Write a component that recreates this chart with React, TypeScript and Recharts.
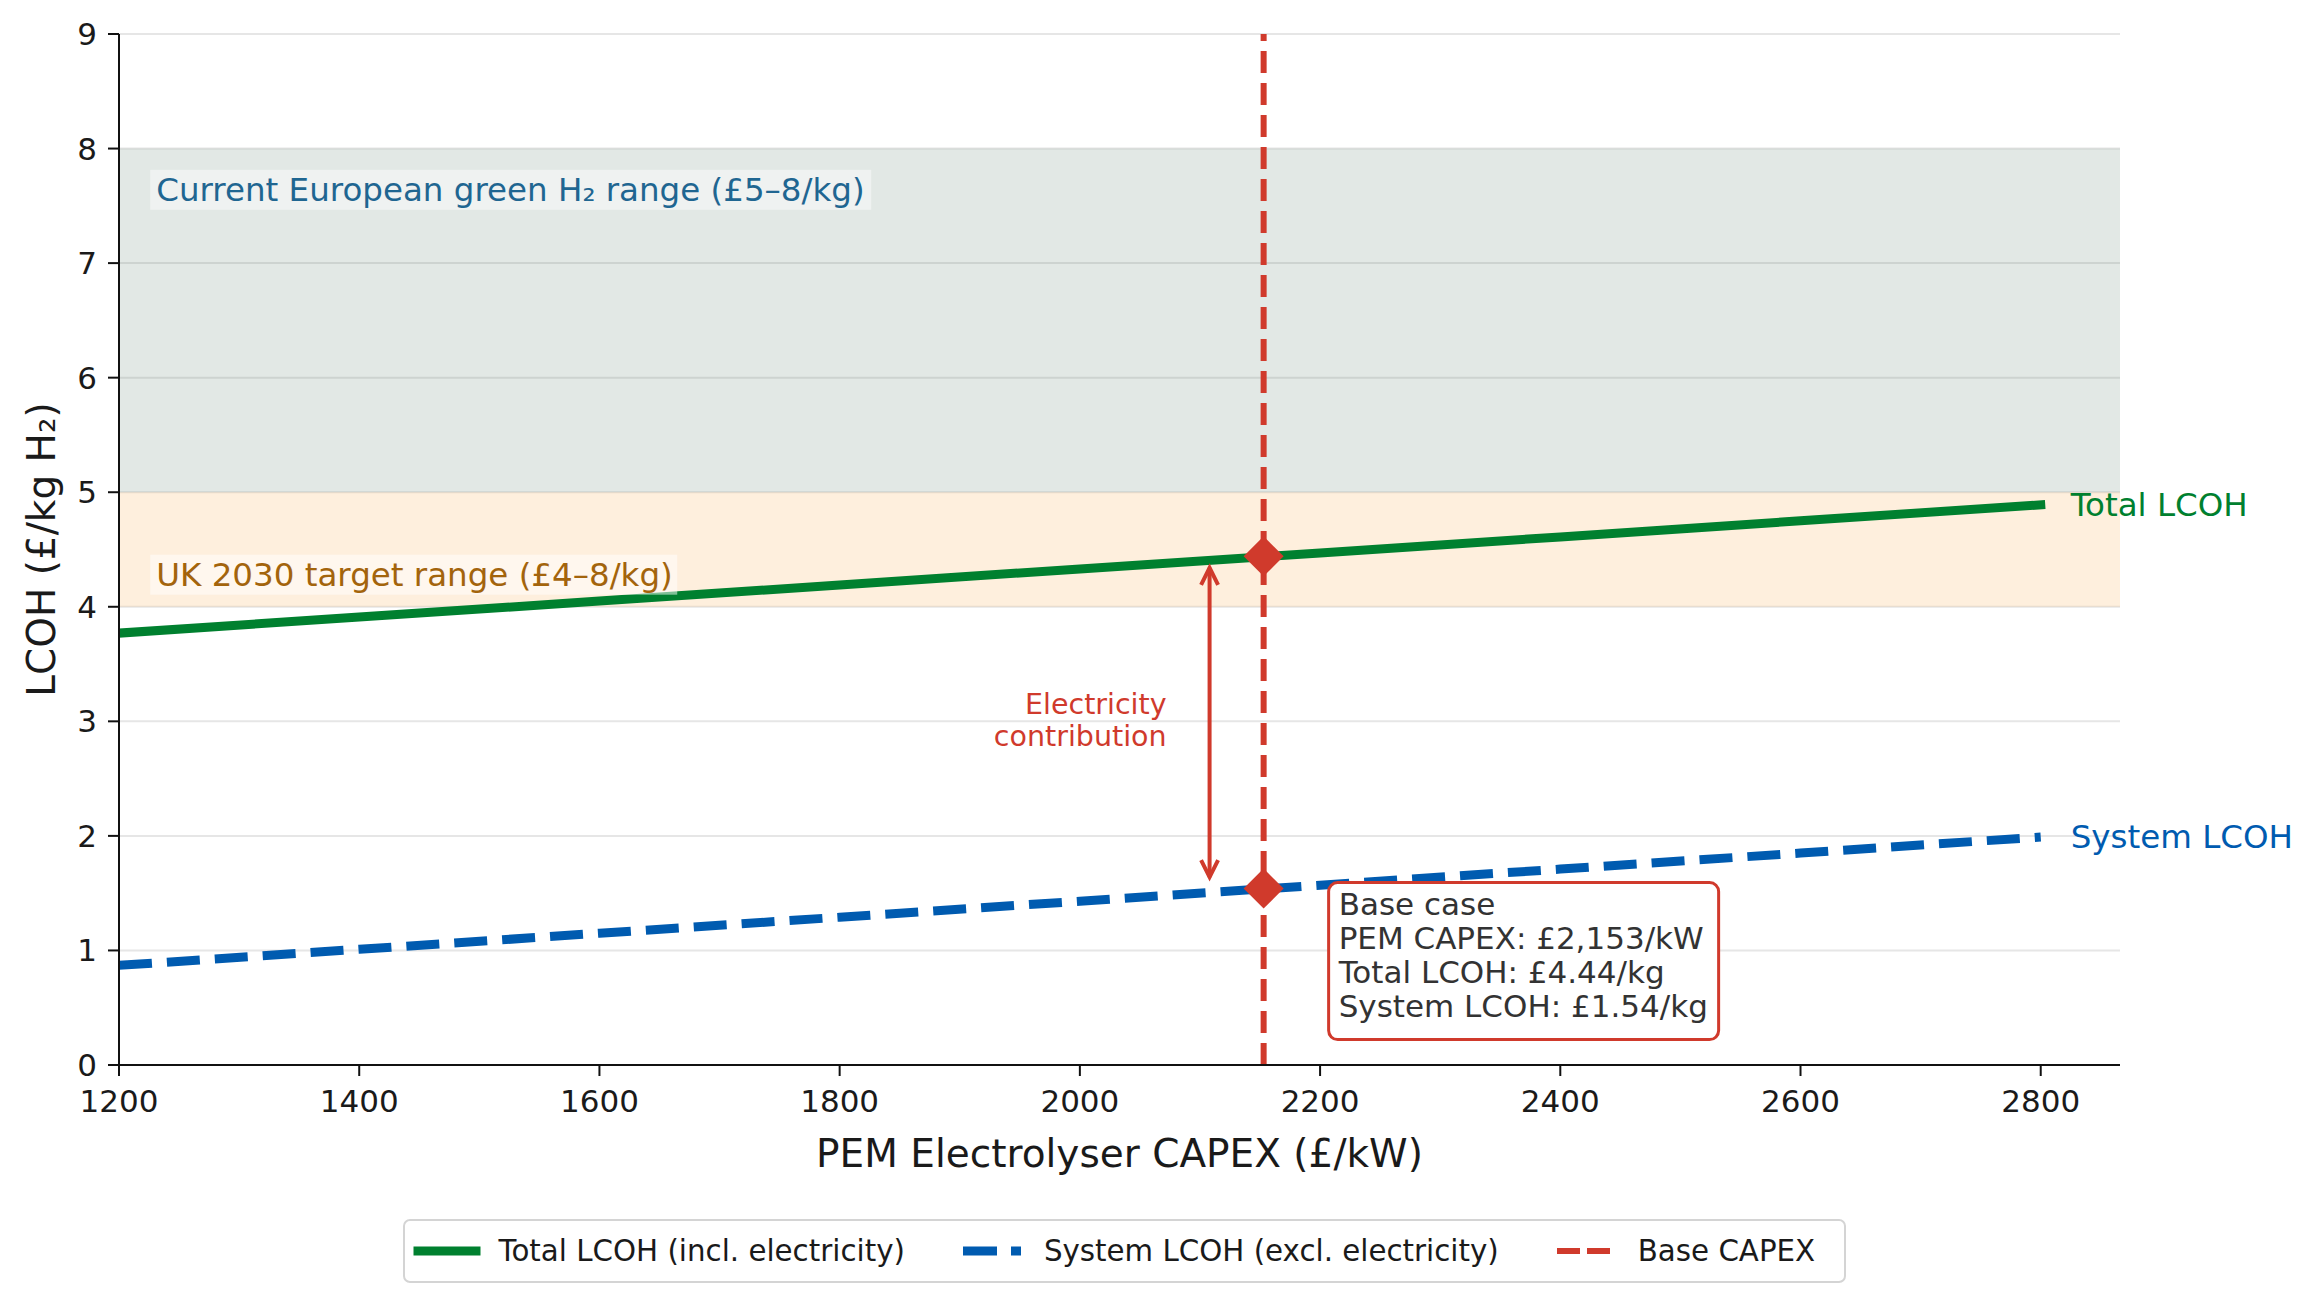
import {
  CartesianGrid,
  ComposedChart,
  Legend,
  Line,
  ReferenceArea,
  ReferenceDot,
  ReferenceLine,
  XAxis,
  YAxis,
} from "recharts";

// values
const capexPoints = [1200, 1400, 1600, 1800, 2000, 2200, 2400, 2600, 2800];
const totalLcoh = [3.77, 3.91, 4.05, 4.19, 4.33, 4.47, 4.61, 4.75, 4.89];
const systemLcoh = [0.87, 1.01, 1.15, 1.29, 1.43, 1.57, 1.71, 1.85, 1.99];
const xTicks = [1200, 1400, 1600, 1800, 2000, 2200, 2400, 2600, 2800];
const yTicks = [0, 1, 2, 3, 4, 5, 6, 7, 8, 9];

const baseCapex = 2153;
const baseTotal = 4.44;
const baseSystem = 1.54;

const ukBand = [4, 5];
const euBand = [5, 8];
const arrowCapex = 2108;
const arrowSpan = [1.64, 4.34];

const chartData = capexPoints.map((capex, i) => ({
  capex,
  total: totalLcoh[i],
  system: systemLcoh[i],
}));

const FONT = '"DejaVu Sans", sans-serif';
const GREEN = "#00802f";
const BLUE = "#005bb0";
const RED = "#d03a2c";
const INK = "#1a1a1a";

const legendItems = [
  { label: "Total LCOH (incl. electricity)", color: GREEN, width: 9, dash: undefined, cap: "square" },
  { label: "System LCOH (excl. electricity)", color: BLUE, width: 9, dash: "34 14", cap: "butt" },
  { label: "Base CAPEX", color: RED, width: 6, dash: "23 7", cap: "butt" },
];

function LegendBox() {
  return (
    <div
      style={{
        boxSizing: "border-box",
        width: 1443,
        height: 64,
        border: "2px solid #d4d4d4",
        borderRadius: 7,
        background: "#fff",
        display: "flex",
        alignItems: "center",
        paddingLeft: 12.5,
        fontFamily: FONT,
        fontSize: 29.3,
        color: INK,
        whiteSpace: "nowrap",
      }}
    >
      {legendItems.map((item, i) => (
        <div key={item.label} style={{ display: "flex", alignItems: "center", marginLeft: i === 0 ? 0 : 58 }}>
          <svg width={58} height={20} style={{ overflow: "visible", marginRight: 23 }}>
            <line
              x1={0}
              y1={10}
              x2={58}
              y2={10}
              stroke={item.color}
              strokeWidth={item.width}
              strokeDasharray={item.dash}
              strokeLinecap={item.cap as "square" | "butt"}
            />
          </svg>
          <span>{item.label}</span>
        </div>
      ))}
    </div>
  );
}

function Diamond({ cx, cy }: { cx?: number; cy?: number }) {
  if (cx == null || cy == null) return null;
  const h = 20;
  return <polygon points={`${cx},${cy - h} ${cx + h},${cy} ${cx},${cy + h} ${cx - h},${cy}`} fill={RED} />;
}

const endLabel = (text: string, color: string) => (p: any) =>
  (
    <text x={p.cx + 30} y={p.cy} dominantBaseline="central" fontSize={32.5} fill={color} fontFamily={FONT}>
      {text}
    </text>
  );

const bandLabel = (text: string, color: string, boxWidth: number, boxOpacity: number) => (p: any) =>
  (
    <g>
      <rect x={p.cx - 6} y={p.cy - 20} width={boxWidth} height={40} fill="#fff" fillOpacity={boxOpacity} />
      <text x={p.cx} y={p.cy} dominantBaseline="central" fontSize={32.5} fill={color} fontFamily={FONT}>
        {text}
      </text>
    </g>
  );

const baseCaseLines = [
  "Base case",
  `PEM CAPEX: £${baseCapex.toLocaleString("en-GB")}/kW`,
  `Total LCOH: £${baseTotal.toFixed(2)}/kg`,
  `System LCOH: £${baseSystem.toFixed(2)}/kg`,
];

function BaseCaseBox(p: any) {
  return (
    <g>
      <rect x={p.cx + 65} y={p.cy - 6} width={390} height={157} rx={9} fill="#fff" stroke={RED} strokeWidth={3} />
      {baseCaseLines.map((t, i) => (
        <text key={t} x={p.cx + 75} y={p.cy + 26 + i * 34.3} fontSize={31} fill="#333" fontFamily={FONT}>
          {t}
        </text>
      ))}
    </g>
  );
}

function ElectricityArrow(p: any) {
  const x = p.x1;
  const top = Math.min(p.y1, p.y2);
  const bottom = Math.max(p.y1, p.y2);
  const mid = (top + bottom) / 2;
  return (
    <g>
      <line x1={x} y1={top} x2={x} y2={bottom} stroke={RED} strokeWidth={4} />
      <polyline points={`${x - 8.5},${top + 17} ${x},${top} ${x + 8.5},${top + 17}`} fill="none" stroke={RED} strokeWidth={4} />
      <polyline
        points={`${x - 8.5},${bottom - 17} ${x},${bottom} ${x + 8.5},${bottom - 17}`}
        fill="none"
        stroke={RED}
        strokeWidth={4}
      />
      <text x={x - 43} y={mid - 8} textAnchor="end" fontSize={28.5} fill={RED} fontFamily={FONT}>
        Electricity
      </text>
      <text x={x - 43} y={mid + 24} textAnchor="end" fontSize={28.5} fill={RED} fontFamily={FONT}>
        contribution
      </text>
    </g>
  );
}

function YTitle(p: any) {
  const vb = p.viewBox ?? { x: 0, y: 34, width: 119, height: 1031 };
  const cx = vb.x + 41;
  const cy = vb.y + vb.height / 2;
  return (
    <text
      x={cx}
      y={cy}
      transform={`rotate(-90, ${cx}, ${cy})`}
      textAnchor="middle"
      dominantBaseline="central"
      fontSize={39}
      fill={INK}
      fontFamily={FONT}
    >
      LCOH (£/kg H₂)
    </text>
  );
}

export default function App() {
  return (
    <div style={{ fontFamily: FONT }}>
      <style>{"body{margin:0}"}</style>
      <ComposedChart
        width={2312}
        height={1297}
        data={chartData}
        margin={{ top: 34, right: 192, bottom: 130, left: 0 }}
        style={{ fontFamily: FONT }}
      >
        <CartesianGrid vertical={false} stroke="#e6e6e6" strokeWidth={2} />
        <ReferenceArea y1={euBand[0]} y2={euBand[1]} fill="#4a7060" fillOpacity={0.16} stroke="none" ifOverflow="visible" />
        <ReferenceArea y1={ukBand[0]} y2={ukBand[1]} fill="#f7a440" fillOpacity={0.18} stroke="none" ifOverflow="visible" />
        <XAxis
          dataKey="capex"
          type="number"
          domain={[1200, 2866]}
          ticks={xTicks}
          allowDataOverflow
          height={102}
          tickSize={11}
          tickMargin={14}
          axisLine={{ stroke: "#111", strokeWidth: 2 }}
          tickLine={{ stroke: "#111", strokeWidth: 2 }}
          tick={{ fontSize: 31, fill: INK, fontFamily: FONT }}
          label={{
            value: "PEM Electrolyser CAPEX (£/kW)",
            position: "insideBottom",
            offset: 0,
            fontSize: 39,
            fill: INK,
            fontFamily: FONT,
          }}
        />
        <YAxis
          type="number"
          domain={[0, 9]}
          ticks={yTicks}
          allowDataOverflow
          width={119}
          tickSize={11}
          tickMargin={11}
          axisLine={{ stroke: "#111", strokeWidth: 2 }}
          tickLine={{ stroke: "#111", strokeWidth: 2 }}
          tick={{ fontSize: 31, fill: INK, fontFamily: FONT }}
          label={{ content: YTitle }}
        />
        <ReferenceDot
          x={1231}
          y={7.64}
          shape={bandLabel("Current European green H₂ range (£5–8/kg)", "#1f6691", 721, 0.45)}
        />
        <ReferenceDot x={1231} y={4.28} shape={bandLabel("UK 2030 target range (£4–8/kg)", "#a3640c", 527, 0.5)} />
        <Line
          dataKey="total"
          stroke={GREEN}
          strokeWidth={9}
          strokeLinecap="square"
          dot={false}
          activeDot={false}
          isAnimationActive={false}
        />
        <Line
          dataKey="system"
          stroke={BLUE}
          strokeWidth={9}
          strokeDasharray="33 15"
          dot={false}
          activeDot={false}
          isAnimationActive={false}
        />
        <ReferenceLine x={baseCapex} stroke={RED} strokeWidth={6} strokeDasharray="22 10" />
        <ReferenceLine
          segment={[
            { x: arrowCapex, y: arrowSpan[0] },
            { x: arrowCapex, y: arrowSpan[1] },
          ]}
          shape={ElectricityArrow}
        />
        <ReferenceDot x={baseCapex} y={baseTotal} shape={Diamond} />
        <ReferenceDot x={baseCapex} y={baseSystem} shape={Diamond} />
        <ReferenceDot x={baseCapex} y={baseSystem} shape={BaseCaseBox} />
        <ReferenceDot
          x={capexPoints[capexPoints.length - 1]}
          y={totalLcoh[totalLcoh.length - 1]}
          shape={endLabel("Total LCOH", GREEN)}
        />
        <ReferenceDot
          x={capexPoints[capexPoints.length - 1]}
          y={systemLcoh[systemLcoh.length - 1]}
          shape={endLabel("System LCOH", BLUE)}
        />
        <Legend
          layout="horizontal"
          verticalAlign="middle"
          align="center"
          wrapperStyle={{ left: 403, top: 1219, width: 1443, height: 64 }}
          content={() => <LegendBox />}
        />
      </ComposedChart>
    </div>
  );
}
